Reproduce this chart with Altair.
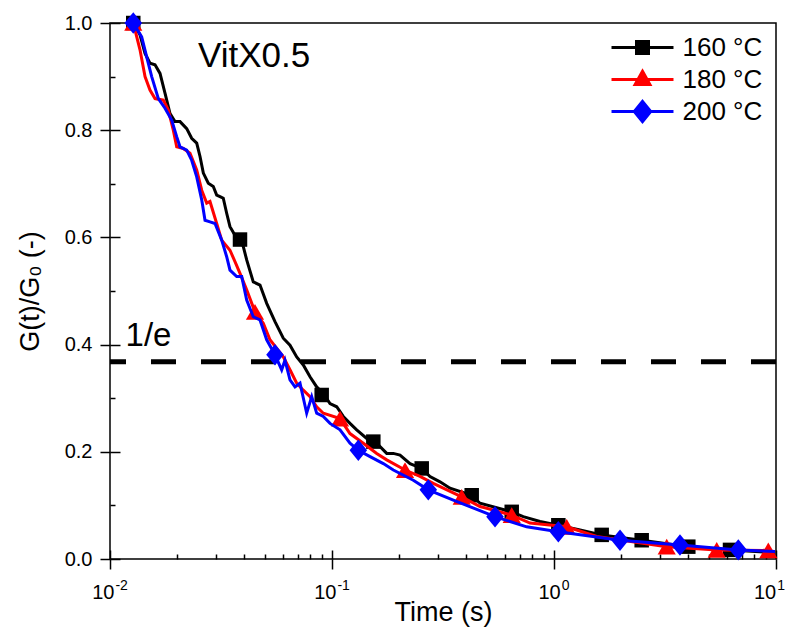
import altair as alt
import pandas as pd

SERIES = ["160 °C", "180 °C", "200 °C"]
COLORS = ["#000000", "#ff0000", "#0000ff"]

# 160 °C curve
T160 = [0.01273, 0.01365, 0.01438, 0.01514, 0.01595, 0.0168, 0.01769, 0.01864, 0.01962, 0.02067,
        0.02216, 0.02333, 0.02458, 0.02544, 0.02633, 0.02772, 0.02919, 0.03024, 0.03129, 0.03238,
        0.03354, 0.03471, 0.03656, 0.03851, 0.03985, 0.04128, 0.0442, 0.04739, 0.0508, 0.05536,
        0.06033, 0.06468, 0.06934, 0.07425, 0.0796, 0.08532, 0.09137, 0.09795, 0.105, 0.1124,
        0.1205, 0.1292, 0.1433, 0.159, 0.1764, 0.1889, 0.2025, 0.2246, 0.2536, 0.2763,
        0.3066, 0.340, 0.4259, 0.4642, 0.645, 0.727, 0.865, 1.046, 1.310, 1.640,
        2.483, 4.027, 6.206, 9.90]
G160 = [1.0, 0.978, 0.943, 0.925, 0.922, 0.906, 0.869, 0.831, 0.816, 0.816,
        0.803, 0.785, 0.776, 0.751, 0.720, 0.701, 0.695, 0.679, 0.676, 0.673,
        0.645, 0.620, 0.604, 0.596, 0.583, 0.558, 0.517, 0.511, 0.477, 0.443,
        0.412, 0.399, 0.377, 0.362, 0.340, 0.321, 0.309, 0.290, 0.284, 0.266,
        0.253, 0.241, 0.225, 0.216, 0.197, 0.197, 0.194, 0.178, 0.169, 0.154,
        0.144, 0.132, 0.119, 0.104, 0.088, 0.079, 0.070, 0.063, 0.054, 0.045,
        0.035, 0.023, 0.017, 0.012]
MT160 = [0.01273, 0.03851, 0.08986, 0.1535, 0.2536, 0.4259, 0.645, 1.046, 1.640, 2.483, 4.027, 6.206]
MG160 = [1.0, 0.596, 0.306, 0.219, 0.169, 0.119, 0.088, 0.063, 0.045, 0.035, 0.023, 0.017]

# 180 °C curve
T180 = [0.01273, 0.01296, 0.01365, 0.01438, 0.01514, 0.01595, 0.01739, 0.0183, 0.01928, 0.01997,
        0.02139, 0.02293, 0.02458, 0.02589, 0.02727, 0.02821, 0.03024, 0.03185, 0.03471, 0.03656,
        0.03851, 0.04128, 0.04499, 0.04904, 0.05256, 0.06033, 0.06468, 0.06934, 0.07425, 0.0796,
        0.08532, 0.09137, 0.1087, 0.1205, 0.1384, 0.159, 0.1764, 0.2133, 0.2491, 0.2859,
        0.3839, 0.4642, 0.645, 0.780, 1.141, 1.557, 3.219, 5.407, 9.233, 9.90]
G180 = [1.0, 0.987, 0.950, 0.900, 0.875, 0.859, 0.856, 0.838, 0.800, 0.769,
        0.766, 0.757, 0.726, 0.688, 0.664, 0.667, 0.626, 0.595, 0.576, 0.555,
        0.533, 0.502, 0.461, 0.440, 0.409, 0.377, 0.353, 0.328, 0.315, 0.303,
        0.284, 0.272, 0.262, 0.234, 0.216, 0.197, 0.185, 0.166, 0.154, 0.141,
        0.116, 0.098, 0.082, 0.067, 0.060, 0.042, 0.023, 0.017, 0.016, 0.013]
MT180 = [0.01273, 0.04499, 0.1087, 0.2133, 0.3839, 0.645, 1.141, 3.219, 5.407, 9.233]
MG180 = [1.0, 0.461, 0.262, 0.166, 0.116, 0.082, 0.060, 0.023, 0.017, 0.016]

# 200 °C curve
T200 = [0.01273, 0.01389, 0.01463, 0.01541, 0.01651, 0.01769, 0.01896, 0.01997, 0.02067, 0.02216,
        0.02333, 0.02458, 0.02589, 0.02679, 0.02821, 0.02972, 0.03185, 0.03354, 0.03471, 0.03721,
        0.0392, 0.04128, 0.0442, 0.04739, 0.0508, 0.05536, 0.05934, 0.06141, 0.06468, 0.06813,
        0.07176, 0.07691, 0.08102, 0.08532, 0.09137, 0.09795, 0.1087, 0.1205, 0.1314, 0.1484,
        0.1703, 0.1889, 0.2324, 0.2715, 0.3519, 0.5424, 0.753, 1.046, 1.983, 3.694,
        6.765, 9.90]
G200 = [1.0, 0.974, 0.937, 0.900, 0.859, 0.841, 0.819, 0.788, 0.769, 0.763,
        0.744, 0.713, 0.670, 0.632, 0.629, 0.626, 0.595, 0.564, 0.539, 0.527,
        0.527, 0.483, 0.452, 0.446, 0.409, 0.381, 0.353, 0.371, 0.334, 0.321,
        0.328, 0.272, 0.303, 0.272, 0.266, 0.253, 0.241, 0.216, 0.203, 0.191,
        0.178, 0.166, 0.147, 0.129, 0.110, 0.079, 0.060, 0.051, 0.035, 0.026,
        0.017, 0.014]
MT200 = [0.01273, 0.05536, 0.1314, 0.2715, 0.5424, 1.046, 1.983, 3.694, 6.765]
MG200 = [1.0, 0.381, 0.203, 0.129, 0.079, 0.051, 0.035, 0.026, 0.017]

ONE_OVER_E = 0.3679

X_MAJOR = [0.01, 0.1, 1, 10]
X_BASE = ["10", "10", "10", "10"]
X_EXP = ["-2", "-1", "0", "1"]
X_MINOR = [m * d for d in (0.01, 0.1, 1) for m in range(2, 10)]
Y_MAJOR = [0.0, 0.2, 0.4, 0.6, 0.8, 1.0]
Y_MINOR = [0.1, 0.3, 0.5, 0.7, 0.9]

NOTE_TEXT = ["VitX0.5", "1/e"]
NOTE_T = [0.0249, 0.01175]
NOTE_G = [0.918, 0.397]

FONT = "Liberation Sans, Arial, Helvetica, sans-serif"
W, H = 666, 536
PAD_RIGHT = 10
BASE_FS, EXP_FS = 20, 14

xs = alt.Scale(type="log", domain=[0.01, 10], nice=False)
ys = alt.Scale(domain=[0, 1], nice=False)

ax_x_main = alt.Axis(orient="bottom", values=X_MAJOR, labels=False, tickSize=10,
                     title="Time (s)", titleFontSize=27, titlePadding=30)
ax_y_main = alt.Axis(orient="left", values=Y_MAJOR, format=".1f", tickSize=10, labelPadding=8,
                     labelFontSize=20, title="G(t)/G₀ (-)", titleFontSize=27, titlePadding=20)
ax_x_in_major = alt.Axis(orient="top", offset=-H, values=X_MAJOR, tickSize=9, labels=False, title=None)
ax_y_in_major = alt.Axis(orient="right", offset=-W, values=Y_MAJOR, tickSize=10, labels=False, title=None)
ax_x_in_minor = alt.Axis(orient="top", offset=-H, values=X_MINOR, tickSize=5, labels=False, title=None)
ax_y_in_minor = alt.Axis(orient="right", offset=-W, values=Y_MINOR, tickSize=5, labels=False, title=None)


def line_layer(t, g, color, xaxis=None, yaxis=None):
    df = pd.DataFrame({"t": t, "g": g})
    return alt.Chart(df).mark_line(color=color, strokeWidth=3, clip=True).encode(
        x=alt.X("t:Q", scale=xs, axis=xaxis),
        y=alt.Y("g:Q", scale=ys, axis=yaxis),
    )


def point_layer(t, g, color, shape, size, xaxis=None, yaxis=None):
    df = pd.DataFrame({"t": t, "g": g})
    return alt.Chart(df).mark_point(color=color, shape=shape, size=size, filled=True,
                                    opacity=1, strokeWidth=1).encode(
        x=alt.X("t:Q", scale=xs, axis=xaxis),
        y=alt.Y("g:Q", scale=ys, axis=yaxis),
    )


rule = alt.Chart(pd.DataFrame({"g": [ONE_OVER_E]})).mark_rule(
    color="black", strokeWidth=5, strokeDash=[25, 25], strokeCap="butt"
).encode(y=alt.Y("g:Q", scale=ys, axis=None))

DIAMOND = "M0,-1.1L0.9,0L0,1.1L-0.9,0Z"

l160 = line_layer(T160, G160, COLORS[0], ax_x_main, ax_y_main)
p160 = point_layer(MT160, MG160, COLORS[0], "square", 210, ax_x_in_major, ax_y_in_major)
l180 = line_layer(T180, G180, COLORS[1], ax_x_in_minor, ax_y_in_minor)
p180 = point_layer(MT180, MG180, COLORS[1], "triangle-up", 330)
l200 = line_layer(T200, G200, COLORS[2])
p200 = point_layer(MT200, MG200, COLORS[2], DIAMOND, 380)

notes = pd.DataFrame({"label": NOTE_TEXT, "t": NOTE_T, "g": NOTE_G})
note1 = alt.Chart(notes.iloc[[0]]).mark_text(
    align="left", baseline="alphabetic", fontSize=35, font=FONT, color="black"
).encode(x=alt.X("t:Q", scale=xs, axis=None), y=alt.Y("g:Q", scale=ys, axis=None), text="label:N")
note2 = alt.Chart(notes.iloc[[1]]).mark_text(
    align="left", baseline="alphabetic", fontSize=33, font=FONT, color="black"
).encode(x=alt.X("t:Q", scale=xs, axis=None), y=alt.Y("g:Q", scale=ys, axis=None), text="label:N")

# x tick labels drawn as "10" + superscript exponent, centred on each major tick
CHAR_W = {"-": 0.333, "0": 0.556, "1": 0.556, "2": 0.556}
tick_label_layers = []
for i, (v, b, e) in enumerate(zip(X_MAJOR, X_BASE, X_EXP)):
    base_w = sum(CHAR_W[c] for c in b) * BASE_FS
    exp_w = sum(CHAR_W[c] for c in e) * EXP_FS
    total = base_w + 1 + exp_w
    right = -total / 2 + base_w
    if i == len(X_MAJOR) - 1:
        # keep the last label inside the page
        over = right + 1 + exp_w - (PAD_RIGHT - 1)
        if over > 0:
            right -= over
    df = pd.DataFrame({"t": [v], "b": [b], "e": [e]})
    tick_label_layers.append(alt.Chart(df).mark_text(
        align="right", baseline="alphabetic", fontSize=BASE_FS, font=FONT, color="black", dx=right
    ).encode(x=alt.X("t:Q", scale=xs, axis=None), y=alt.value(H + 40), text="b:N"))
    tick_label_layers.append(alt.Chart(df).mark_text(
        align="left", baseline="alphabetic", fontSize=EXP_FS, font=FONT, color="black", dx=right + 1
    ).encode(x=alt.X("t:Q", scale=xs, axis=None), y=alt.value(H + 31), text="e:N"))

LEG_SHAPES = [
    "M-1.771,0H1.771M-0.343,-0.343H0.343V0.343H-0.343Z",
    "M-1.771,0H1.771M0,-0.47L0.42,0.28H-0.42Z",
    "M-1.771,0H1.771M0,-0.58L0.47,0L0,0.58L-0.47,0Z",
]
leg = alt.Legend(orient="none", legendX=513.5, legendY=5.5, title=None, labelFontSize=26,
                 labelFont=FONT, labelColor="black", symbolSize=1225, symbolStrokeWidth=3,
                 labelOffset=21, rowPadding=0, padding=0, labelLimit=300, symbolOpacity=1)
legend_layer = alt.Chart(pd.DataFrame({"series": SERIES})).transform_filter("false").mark_point(
    filled=True, strokeWidth=3
).encode(
    fill=alt.Fill("series:N", scale=alt.Scale(domain=SERIES, range=COLORS), legend=leg),
    stroke=alt.Stroke("series:N", scale=alt.Scale(domain=SERIES, range=COLORS), legend=leg),
    shape=alt.Shape("series:N", scale=alt.Scale(domain=SERIES, range=LEG_SHAPES), legend=leg),
)

chart = alt.layer(
    rule, l160, p160, l180, p180, l200, p200, note1, note2, *tick_label_layers, legend_layer
).resolve_axis(x="independent", y="independent").properties(
    width=W, height=H,
    autosize=alt.AutoSizeParams(type="none"),
    padding={"left": 102, "top": 15, "right": PAD_RIGHT, "bottom": 68},
    background="white",
).configure_axis(
    grid=False, domain=False, tickColor="black", tickWidth=1.5, labelColor="black",
    titleColor="black", labelFont=FONT, titleFont=FONT, titleFontWeight="normal",
).configure_view(stroke="black", strokeWidth=1.5)

chart.save("out.html", embed_options={"renderer": "svg", "actions": False})
